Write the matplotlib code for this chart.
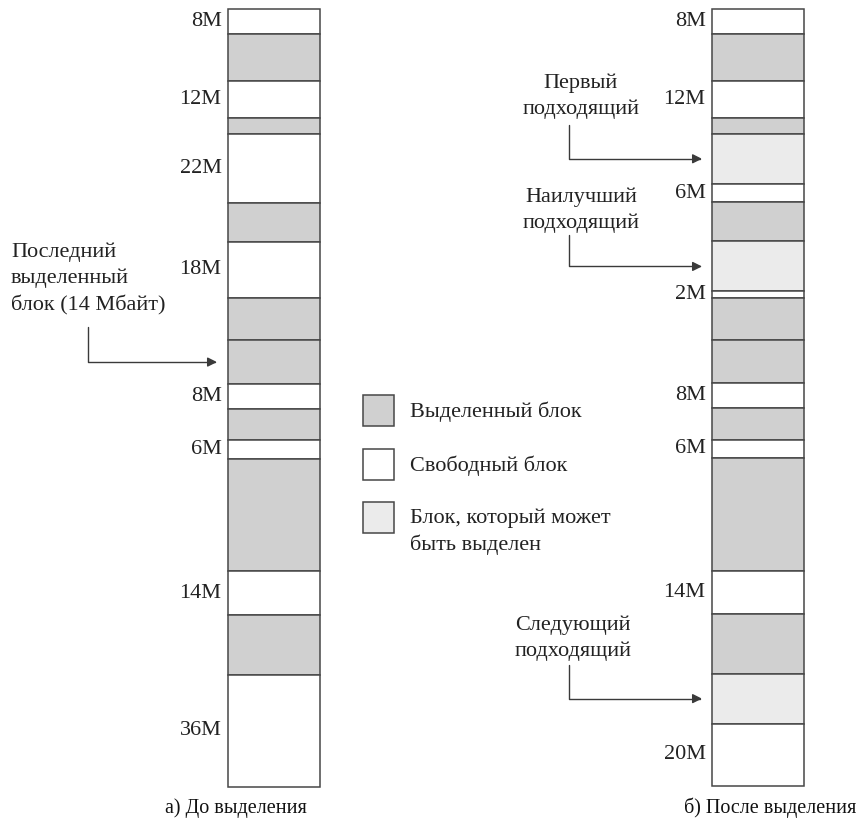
import numpy as np
import matplotlib
matplotlib.use("Agg")
from matplotlib import pyplot as plt
from matplotlib.patches import Rectangle
from matplotlib.transforms import blended_transform_factory

# memory map before allocation (sizes in M, top to bottom)
before_sizes = [8, 15, 12, 5, 22, 12.5, 18, 13.5, 14, 8, 10, 6, 36, 14, 19, 36]
before_kinds = ['free', 'used', 'free', 'used', 'free', 'used', 'free', 'used',
                'used', 'free', 'used', 'free', 'used', 'free', 'used', 'free']
before_labels = ['8M', '', '12M', '', '22M', '', '18M', '', '', '8M', '', '6M',
                 '', '14M', '', '36M']

# memory map after allocation of a 16M block
after_sizes = [8, 15, 12, 5, 16, 6, 12.5, 16, 2, 13.5, 14, 8, 10, 6, 36, 14, 19, 16, 20]
after_kinds = ['free', 'used', 'free', 'used', 'cand', 'free', 'used', 'cand', 'free',
               'used', 'used', 'free', 'used', 'free', 'used', 'free', 'used', 'cand', 'free']
after_labels = ['8M', '', '12M', '', '', '6M', '', '', '2M', '', '', '8M', '', '6M',
                '', '14M', '', '', '20M']

legend_labels = ['Выделенный блок', 'Свободный блок', 'Блок, который может\nбыть выделен']
legend_kinds = ['used', 'free', 'cand']

colors = {'used': '#d0d0d0', 'free': '#ffffff', 'cand': '#ebebeb'}
edge = '#474747'
txt = '#222222'

plt.rcParams['font.family'] = ['Liberation Serif', 'DejaVu Serif']
FS = 16
LS = 1.45

W, H = 859, 823
fig = plt.figure(figsize=(W / 100, H / 100), dpi=100)

# overlay in pixel coordinates for annotations and legend
ov = fig.add_axes([0, 0, 1, 1])
ov.set_xlim(0, W)
ov.set_ylim(H, 0)
ov.axis('off')


def column(left, top, bottom, sizes, kinds, labels):
    ax = fig.add_axes([left / W, 1 - bottom / H, 92 / W, (bottom - top) / H])
    starts = np.concatenate([[0], np.cumsum(sizes)[:-1]])
    bars = ax.bar(np.full(len(sizes), 0.5), sizes, bottom=starts, width=1.0,
                  color=[colors[k] for k in kinds], edgecolor=edge, linewidth=1.1)
    for b in bars:
        b.set_clip_on(False)
    ax.set_xlim(0, 1)
    ax.set_ylim(sum(sizes), 0)
    ax.axis('off')
    tr = blended_transform_factory(ax.transAxes, ax.transData)
    for s, size, lab in zip(starts, sizes, labels):
        if lab:
            ax.text(-0.07, s + size / 2, lab, transform=tr, ha='right', va='center',
                    fontsize=FS, color=txt)
    return ax, starts


axL, startsL = column(228, 9, 787, before_sizes, before_kinds, before_labels)
axR, startsR = column(712, 9, 786, after_sizes, after_kinds, after_labels)


def pointer(ax, starts, sizes, idx, x0, y0, x1):
    yc = starts[idx] + sizes[idx] / 2
    ov.annotate('', xy=(x1, yc), xycoords=(ov.transData, ax.transData),
                xytext=(x0, y0), textcoords='data',
                arrowprops=dict(arrowstyle='-|>', color='#3a3a3a', lw=1.0,
                                shrinkA=0, shrinkB=0, mutation_scale=14,
                                connectionstyle='angle,angleA=90,angleB=0,rad=0'))


# left annotation
ov.text(11, 279, 'Последний\nвыделенный\nблок (14 Мбайт)', ha='left', va='center',
        fontsize=FS, color=txt, linespacing=LS)
pointer(axL, startsL, before_sizes, 8, 88, 327, 217)

# right annotations
ov.text(581, 96, 'Первый\nподходящий', ha='center', va='center', fontsize=FS,
        color=txt, linespacing=LS)
pointer(axR, startsR, after_sizes, 4, 569, 125, 702)
ov.text(581, 210, 'Наилучший\nподходящий', ha='center', va='center', fontsize=FS,
        color=txt, linespacing=LS)
pointer(axR, startsR, after_sizes, 7, 569, 235, 702)
ov.text(573, 638, 'Следующий\nподходящий', ha='center', va='center', fontsize=FS,
        color=txt, linespacing=LS)
pointer(axR, startsR, after_sizes, 17, 569, 665, 702)

# legend
for i, (lab, k) in enumerate(zip(legend_labels, legend_kinds)):
    y = 395 + i * 53.5
    ov.add_patch(Rectangle((363, y), 31, 31, facecolor=colors[k], edgecolor=edge, lw=1.1))
    if '\n' in lab:
        ov.text(410, 532, lab, ha='left', va='center', fontsize=FS, color=txt,
                linespacing=LS)
    else:
        ov.text(410, y + 17, lab, ha='left', va='center', fontsize=FS, color=txt)

# captions
ov.text(236, 808, 'а) До выделения', ha='center', va='center', fontsize=14.5, color='#111111')
ov.text(770, 808, 'б) После выделения', ha='center', va='center', fontsize=14.5, color='#111111')

fig.savefig('out.png', dpi=100, facecolor='white')
